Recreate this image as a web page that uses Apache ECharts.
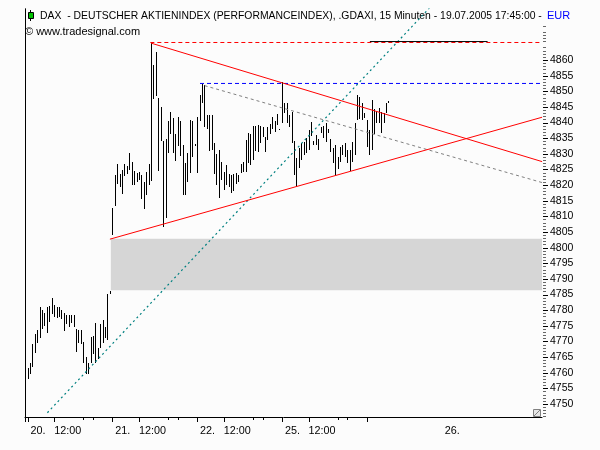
<!DOCTYPE html>
<html>
<head>
<meta charset="utf-8">
<script src="https://cdn.jsdelivr.net/npm/echarts@6/dist/echarts.min.js"></script>
<style>
  html, body { margin: 0; padding: 0; background: #fcfcfc; }
  #chart { width: 600px; height: 450px; }
</style>
</head>
<body>
<div id="chart"></div>
<script>
// 15 min bars: index 0 = 19.07. 17:45, then 35 bars per day (9:15 .. 17:45)
const barHigh = [
  4757.2, 4761.5, 4763.1, 4769.2, 4772.4, 4773.7, 4781.0, 4780.1, 4779.1, 4781.0,
  4781.3, 4783.9, 4781.7, 4781.0, 4781.0, 4780.1, 4779.1, 4778.5, 4778.5, 4778.5,
  4778.5, 4774.0, 4773.7, 4773.7, 4769.8, 4765.0, 4763.1, 4771.4, 4771.7, 4775.9,
  4767.9, 4775.6, 4776.9, 4774.6, 4785.2, 4786.1,
  4812.7, 4823.1, 4826.7, 4823.5, 4824.9, 4826.7, 4826.0, 4830.3, 4827.4, 4824.6,
  4823.9, 4824.2, 4823.3, 4821.0, 4824.2, 4826.7, 4865.4, 4858.5, 4862.6, 4847.8,
  4844.9, 4834.2, 4834.8, 4840.6, 4843.4, 4841.5, 4836.3, 4841.7, 4840.4, 4832.7,
  4827.1, 4830.3, 4840.9, 4840.6, 4833.2,
  4841.7, 4848.9, 4852.3, 4852.1, 4842.5, 4842.3, 4842.3, 4833.5, 4830.0, 4831.2,
  4827.5, 4824.3, 4826.4, 4823.5, 4823.2, 4823.5, 4823.8, 4823.2, 4826.6, 4827.3,
  4834.4, 4836.6, 4836.2, 4839.0, 4839.0, 4839.2, 4839.0, 4838.7, 4835.5, 4838.7,
  4839.4, 4841.9, 4840.5, 4842.6, 4838.0,
  4853.1, 4846.2, 4846.4, 4842.4, 4843.5, 4834.0, 4828.6, 4831.8, 4833.4, 4833.9,
  4835.0, 4837.6, 4840.3, 4834.2, 4836.0, 4834.6, 4838.7, 4838.9, 4839.8, 4837.8,
  4834.6, 4831.8, 4832.8, 4829.1, 4832.3, 4832.8, 4833.4, 4831.2, 4831.2, 4833.9,
  4839.8, 4848.8, 4848.3, 4846.2, 4843.0,
  4840.8, 4837.6, 4847.2, 4844.2, 4843.8, 4844.6, 4843.5, 4843.0, 4846.2, 4847.0
];
const barLow = [
  4756.4, 4758.0, 4759.6, 4761.8, 4766.3, 4769.5, 4771.1, 4774.0, 4775.0, 4772.7,
  4776.2, 4778.8, 4777.8, 4777.5, 4777.8, 4777.2, 4773.3, 4775.6, 4774.6, 4775.9,
  4774.6, 4766.6, 4769.5, 4769.2, 4763.1, 4759.6, 4759.6, 4763.1, 4766.0, 4763.1,
  4764.4, 4767.9, 4769.5, 4771.1, 4770.5, 4785.2,
  4804.1, 4813.2, 4820.3, 4819.3, 4817.2, 4822.8, 4823.5, 4824.9, 4820.1, 4820.1,
  4821.0, 4821.7, 4815.6, 4812.4, 4816.7, 4819.9, 4821.4, 4847.6, 4848.4, 4824.6,
  4834.0, 4806.5, 4809.5, 4830.3, 4836.3, 4830.3, 4827.6, 4832.4, 4829.2, 4816.9,
  4816.9, 4821.0, 4823.9, 4829.0, 4832.6,
  4823.9, 4840.4, 4846.2, 4838.5, 4838.0, 4831.0, 4831.3, 4823.5, 4820.0, 4815.8,
  4821.6, 4818.4, 4820.0, 4819.5, 4817.4, 4818.1, 4820.3, 4821.1, 4823.8, 4824.3,
  4824.3, 4827.0, 4826.4, 4828.0, 4830.9, 4830.5, 4833.4, 4835.5, 4830.7, 4834.4,
  4836.2, 4837.9, 4837.1, 4839.2, 4837.6,
  4839.8, 4843.0, 4840.0, 4838.7, 4833.4, 4823.2, 4819.5, 4825.4, 4828.0, 4829.6,
  4830.2, 4831.2, 4835.7, 4832.8, 4832.8, 4831.2, 4836.8, 4835.0, 4833.9, 4836.6,
  4830.7, 4827.0, 4823.2, 4825.0, 4827.5, 4829.6, 4828.9, 4827.0, 4824.6, 4827.5,
  4829.6, 4840.8, 4841.0, 4840.8, 4841.4,
  4832.3, 4829.6, 4831.2, 4836.3, 4840.0, 4839.8, 4836.6, 4839.8, 4843.0, 4846.2
];

// time axis (bar index units)
const majorTicks = [0, 1, 12, 36, 47, 71, 82, 106, 117, 141];
const minorTicks = [24, 28, 59, 63, 94, 98, 129, 133];
const xLabelPos = [1, 12, 36, 47, 71, 82, 106, 117, 172];
const xLabelText = ['20.', '12:00', '21.', '12:00', '22.', '12:00', '25.', '12:00', '26.'];

// price axis
const priceTicks = [4750, 4755, 4760, 4765, 4770, 4775, 4780, 4785, 4790, 4795, 4800, 4805,
  4810, 4815, 4820, 4825, 4830, 4835, 4840, 4845, 4850, 4855, 4860];

// drawings [index, price]
const upperTrend = [[52, 4865.4], [213.4, 4827.5]];
const lowerTrend = [[35, 4802.7], [213.4, 4841.7]];
const highLine = [[51.7, 4865.6], [213.4, 4865.6]];
const topMark = [[142.3, 4865.9], [190.9, 4865.9]];
const resistLine = [[72.2, 4852.5], [213.4, 4852.5]];
const channelLine = [[74.1, 4851.8], [213.4, 4820.8]];
const tealLine = [[9.2, 4747.2], [171, 4880]];
const gapZone = [35.4, 4802.8, 213.4, 4786.4];

const X_MIN = -0.04, X_MAX = 213.36;
const Y_MIN = 4745.83, Y_MAX = 4876.31;

const minorPrice = [];
for (let p = 4746; p <= 4871; p++) if (p % 5 !== 0) minorPrice.push(p);

function lineSeries(data, color, type, width) {
  return {
    type: 'line', data: data, symbol: 'none', silent: true, z: 5,
    lineStyle: { color: color, width: width || 1, type: type || 'solid' }
  };
}

// short tick marks outside the grid, placed through the axis scales
function xTickSeries(values, len) {
  return {
    type: 'custom', silent: true, clip: false, z: 6,
    data: values.map(v => [v, Y_MIN]),
    renderItem: (params, api) => {
      const p = api.coord([api.value(0), Y_MIN]);
      const x = Math.round(p[0]) + 0.5;
      return { type: 'line', shape: { x1: x, y1: p[1], x2: x, y2: p[1] + len }, style: { stroke: '#000', lineWidth: 1 } };
    }
  };
}
function yTickSeries(values, len, color) {
  return {
    type: 'custom', silent: true, clip: false, z: 6,
    data: values.map(v => [X_MAX, v]),
    renderItem: (params, api) => {
      const p = api.coord([X_MAX, api.value(1)]);
      const y = Math.round(p[1]) + 0.5;
      return { type: 'line', shape: { x1: p[0] + 1, y1: y, x2: p[0] + 1 + len, y2: y }, style: { stroke: color, lineWidth: 1 } };
    }
  };
}

const chart = echarts.init(document.getElementById('chart'));
const option = {
  animation: false,
  backgroundColor: '#fcfcfc',
  grid: { left: 25, right: 58, top: 9, bottom: 33 },
  xAxis: {
    type: 'value', position: 'bottom', min: X_MIN, max: X_MAX,
    axisLine: { show: true, lineStyle: { color: '#000', width: 1 } },
    axisTick: { show: false },
    axisLabel: {
      customValues: xLabelPos, align: 'left', margin: 9,
      color: '#000', fontSize: 10.8, fontFamily: 'Liberation Sans',
      formatter: v => {
        const t = xLabelText[xLabelPos.indexOf(v)];
        return t.endsWith('.') ? '{d|' + t + '}' : t;
      },
      rich: { d: { padding: [0, 0, 0, 3], fontSize: 10.8, fontFamily: 'Liberation Sans', color: '#000' } }
    },
    splitLine: { show: false }
  },
  yAxis: [{
    type: 'value', position: 'right', min: Y_MIN, max: Y_MAX,
    axisLine: { show: true, lineStyle: { color: '#000', width: 1 } },
    axisTick: { show: false },
    axisLabel: {
      customValues: priceTicks, margin: 8,
      color: '#000', fontSize: 10.5, fontFamily: 'Liberation Sans',
      formatter: v => String(v)
    },
    splitLine: { show: false }
  }, {
    type: 'value', position: 'left', min: Y_MIN, max: Y_MAX,
    axisLine: { show: true, lineStyle: { color: '#000', width: 1 } },
    axisTick: { show: false },
    axisLabel: { show: false },
    splitLine: { show: false }
  }],
  graphic: [
    { type: 'line', shape: { x1: 30.5, y1: 10, x2: 30.5, y2: 21 }, style: { stroke: '#000', lineWidth: 1 } },
    { type: 'rect', shape: { x: 28.5, y: 12.5, width: 5, height: 6 }, style: { fill: '#00c000', stroke: '#000', lineWidth: 1 } },
    {
      type: 'text', x: 40, y: 16,
      style: {
        text: 'DAX  - DEUTSCHER AKTIENINDEX (PERFORMANCEINDEX), .GDAXI, 15 Minuten - 19.07.2005 17:45:00 -',
        font: '10.4px "Liberation Sans"', fill: '#000', verticalAlign: 'middle'
      }
    },
    { type: 'text', x: 547, y: 16, style: { text: 'EUR', font: '11px "Liberation Sans"', fill: '#0000ff', verticalAlign: 'middle' } },
    { type: 'text', x: 25, y: 31.5, style: { text: '\u00a9 www.tradesignal.com', font: '11px "Liberation Sans"', fill: '#000', verticalAlign: 'middle' } },
    { type: 'rect', shape: { x: 533.5, y: 409.5, width: 7, height: 7 }, style: { fill: '#e6e6e6', stroke: '#808080', lineWidth: 1 } },
    { type: 'line', shape: { x1: 534, y1: 416, x2: 540, y2: 410 }, style: { stroke: '#808080', lineWidth: 1 } }
  ],
  series: [{
    type: 'custom', silent: true, z: 1, clip: true,
    data: [gapZone],
    renderItem: (params, api) => {
      const a = api.coord([api.value(0), api.value(1)]);
      const b = api.coord([api.value(2), api.value(3)]);
      return {
        type: 'rect',
        shape: { x: a[0], y: a[1], width: b[0] - a[0], height: b[1] - a[1] },
        style: { fill: '#d6d6d6' }
      };
    }
  }, {
    type: 'custom', silent: true, z: 3, clip: true,
    data: barHigh.map((h, i) => [i, h, barLow[i]]),
    encode: { x: 0, y: [1, 2] },
    renderItem: (params, api) => {
      const top = api.coord([api.value(0), api.value(1)]);
      const bot = api.coord([api.value(0), api.value(2)]);
      const x = Math.round(top[0]) + 0.5;
      const y1 = Math.round(top[1]);
      let y2 = Math.round(bot[1]);
      if (y2 - y1 < 1) y2 = y1 + 1;
      return {
        type: 'line',
        shape: { x1: x, y1: y1, x2: x, y2: y2 },
        style: { stroke: '#000', lineWidth: 1 }
      };
    }
  },
  lineSeries(tealLine, '#008080', [2, 3], 1.2),
  lineSeries(channelLine, '#808080', [3, 3]),
  lineSeries(resistLine, '#0000ff', [4, 3]),
  lineSeries(highLine, '#ff0000', [4, 3]),
  lineSeries(topMark, '#000000'),
  lineSeries(upperTrend, '#ff0000'),
  lineSeries(lowerTrend, '#ff0000'),
  xTickSeries(majorTicks, 5),
  xTickSeries(minorTicks, 3),
  yTickSeries(priceTicks, 5, '#000'),
  yTickSeries(minorPrice, 3, '#666')
  ]
};
chart.setOption(option);
</script>
</body>
</html>
